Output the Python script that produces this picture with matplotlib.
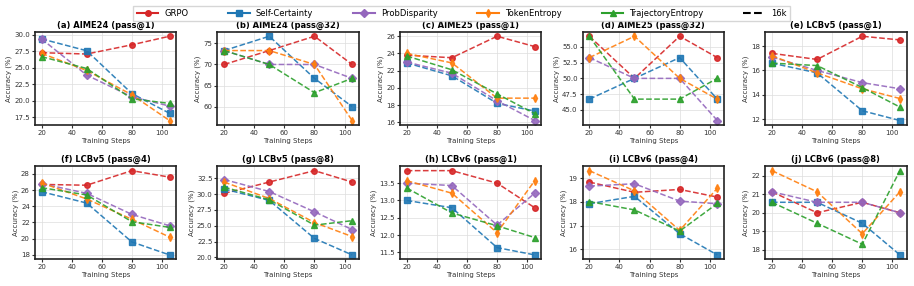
import numpy as np
import matplotlib.pyplot as plt
import matplotlib.lines as lines

plt.rcParams['font.family'] = 'DejaVu Sans'

steps = [20, 50, 80, 105]
methods = ['GRPO', 'Self-Certainty', 'ProbDisparity', 'TokenEntropy', 'TrajectoryEntropy']
colors = ['#d62728', '#1f77b4', '#9467bd', '#ff7f0e', '#2ca02c']
markers = ['o', 's', 'D', 'd', '^']

titles = ['(a) AIME24 (pass@1)', '(b) AIME24 (pass@32)', '(c) AIME25 (pass@1)',
          '(d) AIME25 (pass@32)', '(e) LCBv5 (pass@1)', '(f) LCBv5 (pass@4)',
          '(g) LCBv5 (pass@8)', '(h) LCBv6 (pass@1)', '(i) LCBv6 (pass@4)',
          '(j) LCBv6 (pass@8)']

# rows: GRPO, Self-Certainty, ProbDisparity, TokenEntropy, TrajectoryEntropy
aime24_p1 = [[27.3, 27.1, 28.5, 29.8],
             [29.4, 27.6, 21.1, 18.1],
             [29.4, 23.9, 20.6, 19.2],
             [27.2, 24.6, 20.9, 17.0],
             [26.7, 24.9, 20.3, 19.6]]
aime24_p32 = [[70.0, 73.3, 76.7, 70.0],
              [73.3, 76.7, 66.7, 60.0],
              [73.3, 70.0, 70.0, 66.7],
              [73.3, 73.3, 70.0, 56.7],
              [73.3, 70.0, 63.3, 66.7]]
aime25_p1 = [[23.8, 23.5, 26.0, 24.8],
             [22.9, 21.4, 18.2, 17.3],
             [23.0, 21.7, 18.5, 16.2],
             [24.0, 22.9, 18.8, 18.8],
             [23.7, 22.1, 19.3, 17.0]]
aime25_p32 = [[56.7, 50.0, 56.7, 53.3],
              [46.7, 50.0, 53.3, 46.7],
              [53.3, 50.0, 50.0, 43.3],
              [53.3, 56.7, 50.0, 46.7],
              [56.7, 46.7, 46.7, 50.0]]
lcbv5_p1 = [[17.4, 16.9, 18.8, 18.5],
            [16.6, 15.8, 12.7, 11.9],
            [17.1, 16.0, 15.0, 14.5],
            [17.2, 15.8, 14.5, 13.7],
            [16.6, 16.4, 14.6, 13.0]]
lcbv5_p4 = [[26.7, 26.6, 28.4, 27.6],
            [25.8, 24.4, 19.6, 18.0],
            [26.8, 25.6, 23.0, 21.6],
            [26.9, 24.9, 22.4, 20.2],
            [26.3, 25.4, 22.1, 21.4]]
lcbv5_p8 = [[30.1, 31.9, 33.7, 31.9],
            [30.8, 29.0, 23.0, 20.4],
            [32.3, 30.4, 27.2, 24.4],
            [31.9, 29.3, 25.5, 23.3],
            [31.1, 29.1, 25.1, 25.8]]
lcbv6_p1 = [[13.86, 13.86, 13.50, 12.79],
            [13.00, 12.79, 11.64, 11.43],
            [13.50, 13.43, 12.29, 13.21],
            [13.57, 13.21, 12.07, 13.57],
            [13.36, 12.64, 12.27, 11.93]]
lcbv6_p4 = [[18.83, 18.40, 18.52, 18.20],
            [17.92, 18.23, 16.66, 15.77],
            [18.66, 18.76, 18.03, 17.92],
            [19.31, 18.46, 16.80, 18.57],
            [18.01, 17.66, 16.77, 17.93]]
lcbv6_p8 = [[21.14, 20.00, 20.57, 20.00],
            [20.57, 20.57, 19.43, 17.71],
            [21.14, 20.57, 20.57, 20.00],
            [22.29, 21.14, 18.86, 21.14],
            [20.57, 19.43, 18.29, 22.29]]

panels = [aime24_p1, aime24_p32, aime25_p1, aime25_p32, lcbv5_p1,
          lcbv5_p4, lcbv5_p8, lcbv6_p1, lcbv6_p4, lcbv6_p8]

fig, axes = plt.subplots(2, 5, figsize=(9.14, 2.86), dpi=100)
plt.subplots_adjust(left=0.038, right=0.992, top=0.888, bottom=0.094,
                    wspace=0.29, hspace=0.45)

for k, ax in enumerate(axes.flat):
    data = panels[k]
    for i in range(len(methods)):
        ax.plot(steps, data[i], '--', color=colors[i], marker=markers[i],
                markersize=4, linewidth=1.1, alpha=0.9)
    ax.set_title(titles[k], fontsize=6, fontweight='bold', pad=3)
    ax.set_xlabel('Training Steps', fontsize=5, labelpad=1.5, color='#333333')
    ax.set_ylabel('Accuracy (%)', fontsize=5, labelpad=1.5, color='#333333')
    ax.set_xticks([20, 40, 60, 80, 100])
    ax.set_xlim(15.5, 109.5)
    ax.tick_params(labelsize=5, length=2, pad=1.5, colors='#333333')
    ax.grid(True, color='#dddddd', linewidth=0.7, alpha=0.7)
    for s in ax.spines.values():
        s.set_linewidth(1.2)
        s.set_color('#222222')

axes[0, 0].set_yticks([17.5, 20.0, 22.5, 25.0, 27.5, 30.0])
axes[0, 1].set_yticks([60, 65, 70, 75])
axes[0, 2].set_yticks([16, 18, 20, 22, 24, 26])
axes[0, 3].set_yticks([45.0, 47.5, 50.0, 52.5, 55.0])
axes[0, 4].set_yticks([12, 14, 16, 18])
axes[1, 0].set_yticks([18, 20, 22, 24, 26, 28])
axes[1, 1].set_yticks([20.0, 22.5, 25.0, 27.5, 30.0, 32.5])
axes[1, 2].set_yticks([11.5, 12.0, 12.5, 13.0, 13.5])
axes[1, 3].set_yticks([16, 17, 18, 19])
axes[1, 4].set_yticks([18, 19, 20, 21, 22])
axes[0, 0].yaxis.set_major_formatter('{x:.1f}')
axes[0, 3].yaxis.set_major_formatter('{x:.1f}')
axes[1, 1].yaxis.set_major_formatter('{x:.1f}')
axes[1, 2].yaxis.set_major_formatter('{x:.1f}')

handles = []
for i in range(len(methods)):
    handles.append(lines.Line2D([], [], color=colors[i], marker=markers[i],
                                markersize=4, linewidth=1.5, label=methods[i]))
handles.append(lines.Line2D([], [], color='k', linestyle='--', linewidth=1.5, label='16k'))
fig.legend(handles=handles, loc='upper center', bbox_to_anchor=(0.505, 0.98), ncol=6,
           fontsize=6, frameon=True, handlelength=2.6, columnspacing=4.8,
           borderpad=0.4, handletextpad=0.7, edgecolor='#cccccc', fancybox=False,
           borderaxespad=0)

plt.savefig('out.png', dpi=100)
